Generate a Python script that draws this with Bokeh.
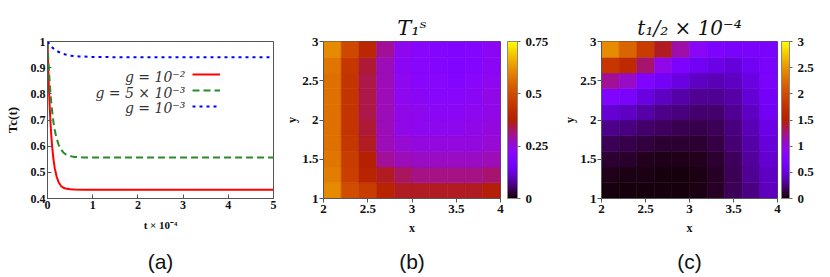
import numpy as np
from bokeh.plotting import figure
from bokeh.layouts import row
from bokeh.models import (LinearColorMapper, ColorBar, FixedTicker, NumeralTickFormatter,
                          Range1d, Legend, LegendItem, Label, ColumnDataSource, LinearAxis)
from bokeh.core.properties import value
from bokeh.embed import file_html
from bokeh.resources import INLINE

# ---------------- data: panel (a) ----------------
t_red = [0, 0.02, 0.04, 0.06, 0.08, 0.10, 0.13, 0.16, 0.20, 0.25, 0.30, 0.35, 0.40, 0.50, 0.60, 0.80, 1.0, 2.0, 3.0, 4.0, 5.0]
T_red = [1.0, 0.88, 0.785, 0.71, 0.65, 0.605, 0.552, 0.516, 0.485, 0.461, 0.448, 0.441, 0.438, 0.435, 0.434, 0.433, 0.433, 0.433, 0.433, 0.433, 0.433]
t_grn = [0, 0.02, 0.04, 0.06, 0.08, 0.10, 0.13, 0.16, 0.20, 0.25, 0.30, 0.35, 0.40, 0.50, 0.60, 0.80, 1.0, 2.0, 3.0, 4.0, 5.0]
T_grn = [1.0, 0.927, 0.866, 0.815, 0.773, 0.737, 0.694, 0.662, 0.630, 0.604, 0.587, 0.576, 0.569, 0.562, 0.559, 0.557, 0.557, 0.557, 0.557, 0.557, 0.557]
t_blu = [0, 0.05, 0.1, 0.15, 0.2, 0.3, 0.4, 0.5, 0.7, 1.0, 1.5, 2, 3, 4, 5]
T_blu = [1.0, 0.988, 0.978, 0.970, 0.964, 0.956, 0.950, 0.946, 0.943, 0.941, 0.940, 0.940, 0.940, 0.940, 0.940]
legend_labels = ["g = 10⁻²", "g = 5 × 10⁻³", "g = 10⁻³"]

# ---------------- data: heatmaps ----------------
x_centers = [2.1, 2.3, 2.5, 2.7, 2.9, 3.1, 3.3, 3.5, 3.7, 3.9]
y_centers = [1.1, 1.3, 1.5, 1.7, 1.9, 2.1, 2.3, 2.5, 2.7, 2.9]
# rows from y=1.1 (bottom) to y=2.9 (top)
T1s = [
    [0.61, 0.50, 0.46, 0.39, 0.36, 0.36, 0.36, 0.36, 0.36, 0.37],
    [0.59, 0.47, 0.39, 0.36, 0.33, 0.31, 0.31, 0.31, 0.31, 0.32],
    [0.58, 0.46, 0.38, 0.30, 0.28, 0.27, 0.27, 0.27, 0.27, 0.28],
    [0.57, 0.45, 0.36, 0.28, 0.26, 0.25, 0.25, 0.25, 0.25, 0.26],
    [0.57, 0.44, 0.35, 0.28, 0.24, 0.23, 0.23, 0.23, 0.24, 0.25],
    [0.57, 0.44, 0.34, 0.28, 0.24, 0.23, 0.22, 0.22, 0.23, 0.24],
    [0.57, 0.44, 0.34, 0.28, 0.23, 0.22, 0.21, 0.21, 0.22, 0.24],
    [0.57, 0.44, 0.34, 0.28, 0.23, 0.21, 0.21, 0.20, 0.21, 0.23],
    [0.58, 0.45, 0.35, 0.28, 0.22, 0.21, 0.20, 0.19, 0.20, 0.22],
    [0.61, 0.49, 0.40, 0.30, 0.23, 0.21, 0.20, 0.19, 0.20, 0.22],
]
thalf = [
    [0.035, 0.033, 0.030, 0.030, 0.035, 0.045, 0.08, 0.17, 0.26, 0.40],
    [0.050, 0.040, 0.040, 0.035, 0.035, 0.045, 0.08, 0.17, 0.30, 0.42],
    [0.10, 0.085, 0.07, 0.055, 0.055, 0.065, 0.10, 0.18, 0.32, 0.46],
    [0.17, 0.15, 0.12, 0.10, 0.10, 0.10, 0.13, 0.23, 0.35, 0.50],
    [0.28, 0.25, 0.20, 0.18, 0.16, 0.15, 0.17, 0.25, 0.38, 0.55],
    [0.48, 0.42, 0.35, 0.28, 0.25, 0.22, 0.22, 0.30, 0.42, 0.60],
    [0.76, 0.68, 0.52, 0.42, 0.35, 0.30, 0.30, 0.35, 0.48, 0.64],
    [1.20, 1.07, 0.76, 0.63, 0.52, 0.42, 0.38, 0.42, 0.52, 0.68],
    [1.80, 1.65, 1.30, 0.95, 0.72, 0.60, 0.55, 0.50, 0.60, 0.68],
    [2.45, 2.20, 1.85, 1.43, 1.15, 0.87, 0.72, 0.68, 0.68, 0.68],
]
cb_ticks_b = [0, 0.25, 0.5, 0.75]
cb_ticks_c = [0, 0.5, 1, 1.5, 2, 2.5, 3]
xy_ticks_x = [2, 2.5, 3, 3.5, 4]
xy_ticks_y = [1, 1.5, 2, 2.5, 3]
panel_tags = ["(a)", "(b)", "(c)"]

# gnuplot colour map
_s = np.linspace(0, 1, 256)
_r = np.sqrt(_s)
_g = _s ** 3
_b = np.clip(np.sin(2 * np.pi * _s), 0, 1)
palette = ["#%02x%02x%02x" % (int(round(255 * a)), int(round(255 * b)), int(round(255 * c)))
           for a, b, c in zip(_r, _g, _b)]

SERIF = "Liberation Serif"
MATH = "DejaVu Serif"
SANS = "Liberation Sans"
FRAME = "#555555"
H = 275


def style_axes(p, tick_size, tick_in, tick_out):
    for ax in (p.xaxis, p.yaxis):
        ax.major_label_text_font = SERIF
        ax.major_label_text_font_style = "bold"
        ax.major_label_text_font_size = tick_size
        ax.major_label_text_color = "#111111"
        ax.axis_label_text_font = SERIF
        ax.axis_label_text_font_style = "bold"
        ax.axis_label_text_color = "#111111"
        ax.axis_line_color = FRAME
        ax.major_tick_line_color = FRAME
        ax.major_tick_in = tick_in
        ax.major_tick_out = tick_out
        ax.minor_tick_line_color = None
        ax.major_label_standoff = 2
        ax.axis_label_standoff = 3
    p.grid.visible = False
    p.outline_line_color = FRAME
    p.outline_line_width = 1


def bottom_tag(p, text, standoff):
    ax = LinearAxis(ticker=FixedTicker(ticks=[]), axis_label=text,
                    axis_line_color=None, major_tick_line_color=None,
                    minor_tick_line_color=None, major_tick_in=0, major_tick_out=0,
                    major_label_standoff=0, major_label_text_font_size="0px",
                    axis_label_standoff=standoff, axis_label_text_font=SANS,
                    axis_label_text_font_size="21px", axis_label_text_font_style="normal",
                    axis_label_text_color="#111111")
    p.add_layout(ax, "below")


# ---------------- panel (a) ----------------
p1 = figure(width=280, height=H, output_backend="svg", toolbar_location=None,
            x_range=Range1d(0, 5), y_range=Range1d(0.4, 1.0),
            min_border_left=47, min_border_right=7, min_border_top=41, min_border_bottom=H - 41 - 160)
r1 = p1.line(t_red, T_red, line_color="#ff0000", line_width=2)
r2 = p1.line(t_grn, T_grn, line_color="#2a8a2a", line_width=2, line_dash="7 4")
r3 = p1.line(t_blu, T_blu, line_color="#0000ff", line_width=2, line_dash="3 4")
style_axes(p1, "12px", 4, 0)
p1.xaxis.ticker = FixedTicker(ticks=[0, 1, 2, 3, 4, 5])
p1.yaxis.ticker = FixedTicker(ticks=[0.4, 0.5, 0.6, 0.7, 0.8, 0.9, 1.0])
p1.xaxis.formatter = NumeralTickFormatter(format="0.[0]")
p1.yaxis.formatter = NumeralTickFormatter(format="0.[0]")
p1.xaxis.axis_label = "t × 10⁻⁴"
p1.xaxis.axis_label_text_font_size = "11px"
p1.xaxis.axis_label_standoff = 7
p1.yaxis.axis_label = "Tc(t)"
p1.yaxis.axis_label_text_font_size = "13px"
p1.yaxis.axis_label_standoff = 8

legend = Legend(items=[LegendItem(label=value(" "), renderers=[r]) for r in (r1, r2, r3)],
                location=(145, 85), glyph_width=28, glyph_height=14, label_height=14,
                label_width=1, spacing=2, padding=0, margin=0, border_line_color=None,
                background_fill_alpha=0, label_text_font_size="2px")
p1.add_layout(legend)
for lab, yv in zip(legend_labels, [0.865, 0.805, 0.745]):
    p1.add_layout(Label(x=3.05, y=yv, text=lab, text_align="right", text_baseline="middle",
                        text_font=MATH, text_font_style="italic", text_font_size="14px",
                        text_color="#333333"))
bottom_tag(p1, panel_tags[0], 16)


# ---------------- heatmap helper ----------------
def heatmap(grid, low, high, ticks, fmt, width, left, right, top, frame_h, title, cb_width, cb_gap):
    xs, ys, vs = [], [], []
    for j, yc in enumerate(y_centers):
        for i, xc in enumerate(x_centers):
            xs.append(xc)
            ys.append(yc)
            vs.append(grid[j][i])
    src = ColumnDataSource(dict(x=xs, y=ys, v=vs))
    mapper = LinearColorMapper(palette=palette, low=low, high=high)
    p = figure(width=width, height=H, output_backend="svg", toolbar_location=None,
               x_range=Range1d(2, 4), y_range=Range1d(1, 3),
               min_border_left=left, min_border_right=right, min_border_top=top,
               min_border_bottom=H - top - frame_h)
    p.rect(x="x", y="y", width=0.2, height=0.2, source=src,
           fill_color={"field": "v", "transform": mapper},
           line_color={"field": "v", "transform": mapper}, line_width=0.6)
    style_axes(p, "13px", 0, 4)
    p.xaxis.ticker = FixedTicker(ticks=xy_ticks_x)
    p.yaxis.ticker = FixedTicker(ticks=xy_ticks_y)
    p.xaxis.formatter = NumeralTickFormatter(format="0.[0]")
    p.yaxis.formatter = NumeralTickFormatter(format="0.[0]")
    p.xaxis.axis_label = "x"
    p.yaxis.axis_label = "y"
    p.xaxis.axis_label_text_font_size = "12px"
    p.yaxis.axis_label_text_font_size = "12px"
    p.xaxis.axis_label_standoff = 5
    p.yaxis.axis_label_standoff = 0
    p.yaxis.major_label_standoff = 1
    p.title.text = title
    p.title.align = "center"
    p.title.text_font = MATH
    p.title.text_font_style = "italic"
    p.title.text_font_size = "21px" if title.startswith("T") else "20px"
    p.title.text_color = "#111111"
    p.title.standoff = 4
    cb = ColorBar(color_mapper=mapper, ticker=FixedTicker(ticks=ticks),
                  formatter=NumeralTickFormatter(format=fmt), width=cb_width,
                  padding=0, margin=0, label_standoff=5, location=(cb_gap, 0),
                  major_label_text_font=SERIF, major_label_text_font_style="bold",
                  major_label_text_font_size="13px", major_label_text_color="#111111",
                  bar_line_color="#888888",
                  major_tick_line_color="#666666", major_tick_in=0, major_tick_out=3,
                  background_fill_alpha=0)
    p.add_layout(cb, "right")
    return p


p2 = heatmap(T1s, 0, 0.75, cb_ticks_b, "0.[00]", 280, 43, 60, 38, 161, "T₁ˢ", 10, 7)
p3 = heatmap(thalf, 0, 3, cb_ticks_c, "0.[0]", 268, 33, 51, 34, 166, "t₁/₂ × 10⁻⁴", 8, 4)
bottom_tag(p2, panel_tags[1], 12)
bottom_tag(p3, panel_tags[2], 12)

layout = row(p1, p2, p3)
open("out.html", "w").write(file_html(layout, INLINE))
